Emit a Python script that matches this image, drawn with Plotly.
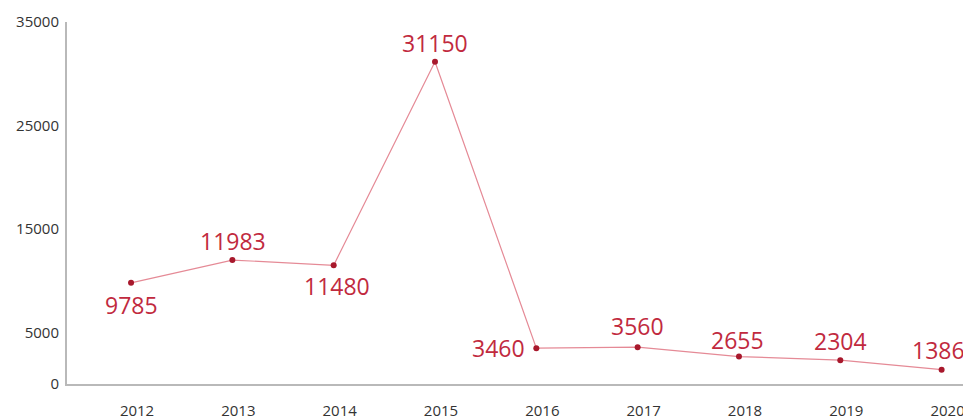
import plotly.graph_objects as go

years = [2012, 2013, 2014, 2015, 2016, 2017, 2018, 2019, 2020]
values = [9785, 11983, 11480, 31150, 3460, 3560, 2655, 2304, 1386]
y_ticks = [0, 5000, 15000, 25000, 35000]
# label offsets in pixels (x, y) relative to each point
label_dx = [0, 1, 3, 0, -38, 0, -1, 0, -3]
label_dy = [-22, 19, -21, 19, 0, 21, 17, 19, 20]

LINE = "#e58a96"
MARK = "#a8182c"
TEXT = "#c12a3e"

fig = go.Figure()
fig.add_trace(go.Scatter(
    x=years, y=values, mode="lines+markers",
    line=dict(color=LINE, width=1.2),
    marker=dict(color=MARK, size=6),
    hoverinfo="x+y", showlegend=False,
))

for x, v, dx, dy in zip(years, values, label_dx, label_dy):
    fig.add_annotation(
        x=x, y=v, text=str(v), showarrow=False,
        xshift=dx, yshift=dy, xanchor="center", yanchor="middle",
        font=dict(family="Open Sans", size=23, color=TEXT),
    )

# page body has an 8px margin, so the figure is sized/placed to compensate
fig.update_layout(
    width=963, height=411,
    margin=dict(l=59, r=0, t=14, b=35),
    paper_bgcolor="white", plot_bgcolor="white",
    font=dict(family="Open Sans", color="#333333", size=15),
)
fig.update_xaxes(
    range=[2011.368, 2020.29],
    tickvals=years, ticktext=[str(y) for y in years],
    showgrid=False, zeroline=False,
    showline=True, linecolor="#b9b9b9", linewidth=2,
    ticks="", ticklabelstandoff=12, ticklabelshift=6,
    tickfont=dict(size=15, color="#333333"),
)
fig.update_yaxes(
    range=[0, 35000],
    tickvals=y_ticks, ticktext=[str(t) for t in y_ticks],
    showgrid=False, zeroline=False,
    showline=True, linecolor="#b9b9b9", linewidth=2,
    ticks="", ticklabelstandoff=3,
    tickfont=dict(size=15, color="#333333"),
)

fig.write_html("out.html")
